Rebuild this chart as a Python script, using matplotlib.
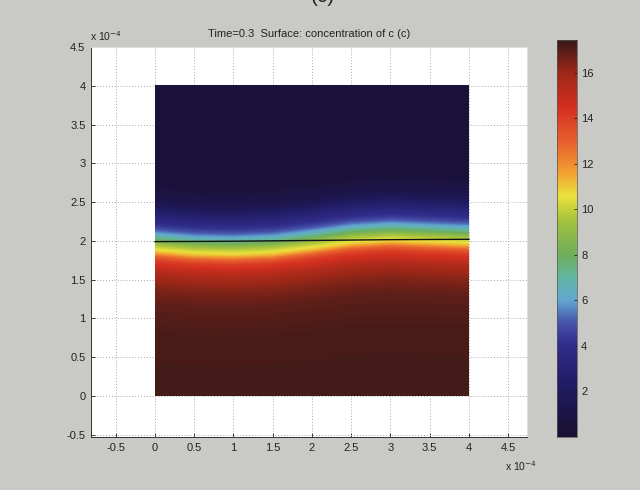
import numpy as np
import matplotlib
matplotlib.use("Agg")
import matplotlib.pyplot as plt
from matplotlib.colors import LinearSegmentedColormap

# Vertical concentration profile (y in units of 1e-4, value of c)
profile_y = [0.0, 0.8, 1.2, 1.4, 1.55, 1.65, 1.75, 1.81, 1.86, 1.91, 1.96, 2.01, 2.07, 2.13, 2.2, 2.3, 2.4, 2.5, 2.7, 4.0]
profile_c = [17.3, 17.2, 16.9, 16.4, 15.8, 15.0, 14.0, 12.8, 11.2, 10.3, 9.4, 8.2, 6.7, 5.4, 4.3, 3.3, 2.3, 1.3, 0.6, 0.5]

# Upward shift of the transition band along x (units of 1e-4)
shift_x = [0.0, 0.5, 1.0, 1.5, 2.0, 2.5, 3.0, 3.5, 4.0]
shift_dy = [-0.01, -0.05, -0.06, -0.04, 0.02, 0.09, 0.12, 0.10, 0.08]

# Interface contour line
interface_x = [0.0, 1.0, 2.0, 3.0, 4.0]
interface_y = [1.99, 1.995, 2.005, 2.015, 2.02]

title_text = "Time=0.3  Surface: concentration of c (c)"
xticks = [-0.5, 0, 0.5, 1, 1.5, 2, 2.5, 3, 3.5, 4, 4.5]
yticks = [-0.5, 0, 0.5, 1, 1.5, 2, 2.5, 3, 3.5, 4, 4.5]
cbar_ticks = [2, 4, 6, 8, 10, 12, 14, 16]
c_min, c_max = 0.0, 17.45

# Colour map running from dark navy through cyan, yellow and red to brown
cmap_nodes = [
    (0.0, "#1a1030"), (2.0, "#201a5e"), (4.0, "#302c8a"), (5.0, "#4652aa"),
    (6.0, "#62a6d2"), (7.0, "#62b6a2"), (8.0, "#6eae5c"), (9.5, "#a4c23e"),
    (10.6, "#eae23c"), (11.6, "#f2a232"), (13.0, "#e8602e"), (14.5, "#d43020"),
    (16.0, "#a02818"), (17.45, "#3a1a18"),
]
cmap = LinearSegmentedColormap.from_list(
    "conc", [((v - c_min) / (c_max - c_min), col) for v, col in cmap_nodes])

plt.rcParams["font.family"] = ["Liberation Sans", "DejaVu Sans"]
bg = "#c9c9c6"

fig = plt.figure(figsize=(6.4, 4.9), dpi=100, facecolor=bg)
ax = fig.add_axes([91 / 640, 1 - 437 / 490, (527 - 91) / 640, (437 - 47) / 490])
ax.set_facecolor("white")

# Build the concentration field on a grid
gx = np.linspace(0, 4, 400)
gy = np.linspace(0, 4, 400)
X, Y = np.meshgrid(gx, gy)
S = np.interp(X, shift_x, shift_dy)
C = np.interp(Y - S, profile_y, profile_c)

ax.imshow(C, origin="lower", extent=[0, 4, 0, 4], cmap=cmap, vmin=c_min, vmax=c_max,
          interpolation="bilinear", aspect="auto", zorder=2)
ax.plot(interface_x, interface_y, color="#111111", lw=1.0, zorder=3)

ax.set_xlim(-0.815, 4.74)
ax.set_ylim(-0.53, 4.5)
ax.set_xticks(xticks)
ax.set_yticks(yticks)
ax.set_xticklabels([f"{t:g}" for t in xticks])
ax.set_yticklabels([f"{t:g}" for t in yticks])
ax.tick_params(direction="in", length=3, width=0.6, labelsize=8, colors="#222222", pad=4)
ax.grid(True, color="#a8a8a8", linestyle=(0, (1, 2)), linewidth=0.7, zorder=1)
ax.set_axisbelow(True)
for side in ["left", "bottom"]:
    ax.spines[side].set_color("#333333")
    ax.spines[side].set_linewidth(0.7)
for side in ["top", "right"]:
    ax.spines[side].set_color("#e0e0e0")
    ax.spines[side].set_linewidth(0.7)

ax.set_title(title_text, fontsize=8, color="#222222", pad=7)
fig.text(90 / 640, 1 - 36 / 490, r"x 10$^{-4}$", fontsize=7.5, color="#222222",
         ha="left", va="center")
fig.text(505 / 640, 1 - 466 / 490, r"x 10$^{-4}$", fontsize=7.5, color="#222222",
         ha="left", va="center")
fig.text(0.505, 1.0 + 3 / 490, "(c)", fontsize=15, color="#222222", ha="center", va="center")

# Colour bar
cax = fig.add_axes([557 / 640, 1 - 437 / 490, 20 / 640, (437 - 40) / 490])
grad = np.linspace(c_min, c_max, 256).reshape(-1, 1)
cax.imshow(grad, origin="lower", extent=[0, 1, c_min, c_max], cmap=cmap,
           vmin=c_min, vmax=c_max, aspect="auto")
cax.set_xlim(0, 1)
cax.set_ylim(c_min, c_max)
cax.set_xticks([])
cax.yaxis.tick_right()
cax.set_yticks(cbar_ticks)
cax.set_yticklabels([str(t) for t in cbar_ticks])
cax.tick_params(direction="in", length=2.5, width=0.6, labelsize=8, colors="#222222", pad=3)
for sp in cax.spines.values():
    sp.set_color("#555555")
    sp.set_linewidth(0.5)

fig.savefig("out.png", dpi=100, facecolor=bg)
